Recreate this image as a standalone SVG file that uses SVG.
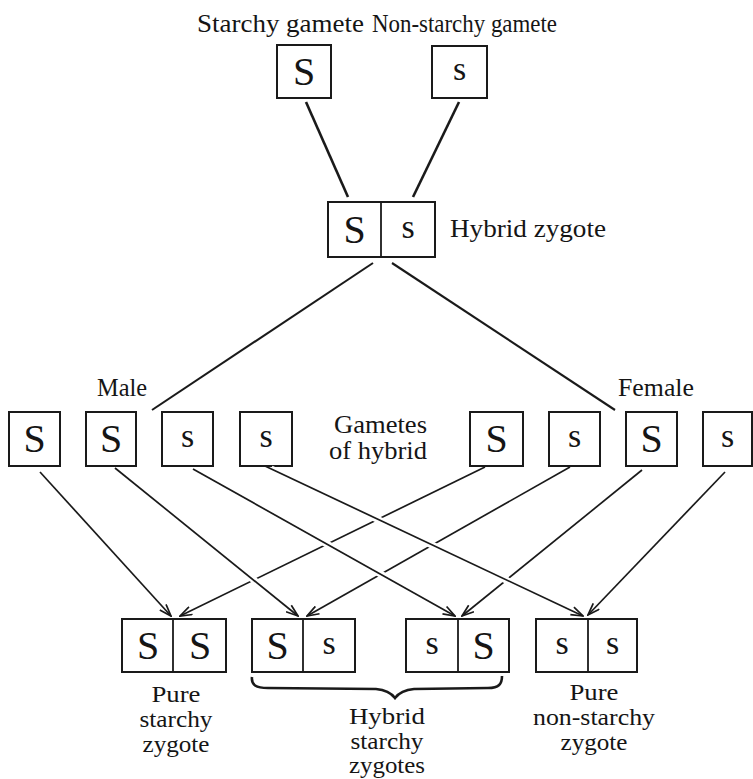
<svg xmlns="http://www.w3.org/2000/svg" width="753" height="779" viewBox="0 0 753 779">
<defs>
<style>
.bx{fill:none;stroke:#1a1a1a;stroke-width:2}
.dv{stroke:#1a1a1a;stroke-width:1.8}
.lb{font-family:"Liberation Serif","Times New Roman",serif;font-size:25px;fill:#151515}
.sm{font-size:23px}
.mid{text-anchor:middle}
.S{font-family:"Liberation Serif","Times New Roman",serif;font-size:40px;fill:#151515;text-anchor:middle}
.s{font-family:"Liberation Serif","Times New Roman",serif;font-size:34px;fill:#151515;text-anchor:middle}
.thick{stroke:#1a1a1a;stroke-width:2.6;fill:none}
.ln{stroke:#1a1a1a;stroke-width:2.1;fill:none}
.ar{stroke:#1a1a1a;stroke-width:1.7;fill:none;marker-end:url(#ah)}
.halo{stroke:#ffffff;stroke-width:7;fill:none}
</style>
<marker id="ah" viewBox="0 0 14 10" refX="13" refY="5" markerWidth="14" markerHeight="10" markerUnits="userSpaceOnUse" orient="auto">
<path d="M1,0.8 L13,5 L1,9.2" fill="none" stroke="#1a1a1a" stroke-width="1.7"/>
</marker>
</defs>
<rect x="0" y="0" width="753" height="779" fill="#ffffff"/>

<g id="labels">
<text class="lb" x="197" y="32" textLength="167" lengthAdjust="spacingAndGlyphs">Starchy gamete</text>
<text class="lb" x="372" y="32" textLength="185" lengthAdjust="spacingAndGlyphs">Non-starchy gamete</text>
<text class="lb" x="450" y="237" textLength="156" lengthAdjust="spacingAndGlyphs">Hybrid zygote</text>
<text class="lb" x="97" y="396" textLength="50" lengthAdjust="spacingAndGlyphs">Male</text>
<text class="lb" x="618" y="396" textLength="76" lengthAdjust="spacingAndGlyphs">Female</text>
<text class="lb" x="334" y="433" textLength="93" lengthAdjust="spacingAndGlyphs">Gametes</text>
<text class="lb" x="329" y="459" textLength="98" lengthAdjust="spacingAndGlyphs">of hybrid</text>
<text class="lb sm mid" x="176" y="702" textLength="49" lengthAdjust="spacingAndGlyphs">Pure</text>
<text class="lb sm mid" x="176" y="727" textLength="73" lengthAdjust="spacingAndGlyphs">starchy</text>
<text class="lb sm mid" x="176" y="752" textLength="67" lengthAdjust="spacingAndGlyphs">zygote</text>
<text class="lb sm mid" x="387" y="724" textLength="76" lengthAdjust="spacingAndGlyphs">Hybrid</text>
<text class="lb sm mid" x="387" y="749" textLength="73" lengthAdjust="spacingAndGlyphs">starchy</text>
<text class="lb sm mid" x="387" y="773" textLength="76" lengthAdjust="spacingAndGlyphs">zygotes</text>
<text class="lb sm mid" x="594" y="700" textLength="49" lengthAdjust="spacingAndGlyphs">Pure</text>
<text class="lb sm mid" x="594" y="725" textLength="122" lengthAdjust="spacingAndGlyphs">non-starchy</text>
<text class="lb sm mid" x="594" y="750" textLength="67" lengthAdjust="spacingAndGlyphs">zygote</text>
</g>

<g id="starchy-gamete">
<rect class="bx" x="277" y="45" width="54" height="53"/>
<text class="S" x="304" y="85">S</text>
</g>
<g id="nonstarchy-gamete">
<rect class="bx" x="432" y="46" width="55" height="52"/>
<text class="s" x="459.5" y="80">s</text>
</g>
<g id="hybrid-zygote">
<rect class="bx" x="328" y="202" width="107" height="55"/>
<line class="dv" x1="381" y1="202" x2="381" y2="257"/>
<text class="S" x="354.5" y="243">S</text>
<text class="s" x="408" y="238">s</text>
</g>

<g id="male-S1"><rect class="bx" x="9" y="412" width="51" height="54"/><text class="S" x="34.5" y="452">S</text></g>
<g id="male-S2"><rect class="bx" x="86" y="412" width="50" height="54"/><text class="S" x="111" y="452">S</text></g>
<g id="male-s1"><rect class="bx" x="162" y="412" width="51" height="54"/><text class="s" x="187.5" y="447">s</text></g>
<g id="male-s2"><rect class="bx" x="240" y="412" width="52" height="54"/><text class="s" x="266" y="447">s</text></g>
<g id="female-S1"><rect class="bx" x="470" y="412" width="53" height="54"/><text class="S" x="496.5" y="452">S</text></g>
<g id="female-s1"><rect class="bx" x="549" y="412" width="51" height="54"/><text class="s" x="574.5" y="447">s</text></g>
<g id="female-S2"><rect class="bx" x="626" y="412" width="51" height="54"/><text class="S" x="651.5" y="452">S</text></g>
<g id="female-s2"><rect class="bx" x="703" y="412" width="49" height="54"/><text class="s" x="727.5" y="447">s</text></g>

<g id="zygote-SS">
<rect class="bx" x="122" y="619" width="104" height="53"/>
<line class="dv" x1="173" y1="619" x2="173" y2="672"/>
<text class="S" x="148" y="659">S</text>
<text class="S" x="200" y="659">S</text>
</g>
<g id="zygote-Ss">
<rect class="bx" x="252" y="619" width="103" height="53"/>
<line class="dv" x1="303" y1="619" x2="303" y2="672"/>
<text class="S" x="277.5" y="659">S</text>
<text class="s" x="329" y="654">s</text>
</g>
<g id="zygote-sS">
<rect class="bx" x="406" y="619" width="103" height="53"/>
<line class="dv" x1="458" y1="619" x2="458" y2="672"/>
<text class="s" x="432" y="654">s</text>
<text class="S" x="483.5" y="659">S</text>
</g>
<g id="zygote-ss">
<rect class="bx" x="536" y="619" width="101" height="53"/>
<line class="dv" x1="588" y1="619" x2="588" y2="672"/>
<text class="s" x="562" y="654">s</text>
<text class="s" x="612.5" y="654">s</text>
</g>

<g id="connectors">
<line class="thick" x1="306" y1="102" x2="348" y2="197"/>
<line class="thick" x1="459" y1="102" x2="413" y2="197"/>
<line class="ln" x1="373" y1="263" x2="152" y2="410"/>
<line class="ln" x1="392" y1="263" x2="615" y2="410"/>
<line class="ar" x1="485" y1="467" x2="180" y2="616"/>
<line class="ar" x1="570" y1="467" x2="307" y2="616"/>
<line class="ar" x1="642" y1="470" x2="462" y2="616"/>
<line class="ar" x1="725" y1="472" x2="588" y2="615"/>
<line class="halo" x1="120" y1="472" x2="281" y2="602"/>
<line class="halo" x1="198" y1="472" x2="436" y2="605"/>
<line class="halo" x1="271" y1="469" x2="563" y2="607"/>
<line class="ar" x1="40" y1="472" x2="171" y2="616"/>
<line class="ar" x1="115" y1="468" x2="298" y2="616"/>
<line class="ar" x1="193" y1="469" x2="455" y2="616"/>
<line class="ar" x1="265" y1="466" x2="583" y2="616"/>
<path class="thick" stroke-width="3" d="M252,677 C251,685 256,688 268,688 L376,689 C387,690 392,694 395,698 C398,694 403,690 414,689 L488,688 C499,688 502,684 502,676"/>
</g>
</svg>
